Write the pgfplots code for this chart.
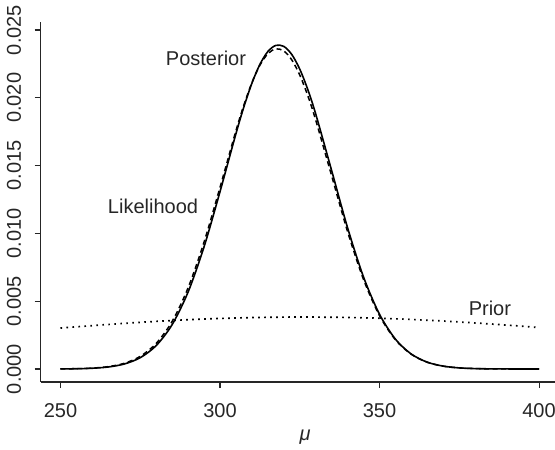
\documentclass[border=0pt]{standalone}
\usepackage{fontspec}
\setmainfont{Liberation Sans}
\usepackage{pgfplots}
\pgfplotsset{compat=1.18}
\begin{document}
\begin{tikzpicture}[font=\fontsize{20}{24}\selectfont]
\begin{axis}[
  at={(40.7pt,68pt)}, anchor=south west,
  scale only axis, width=514.3pt, height=360pt,
  xmin=243.8, xmax=405, ymin=-0.00096, ymax=0.02559,
  axis x line*=bottom, axis y line*=left,
  axis line style={line width=1.1pt, black!85},
  every tick/.style={line width=1.1pt, black!85},
  tick align=outside, major tick length=6pt,
  xtick={250,300,350,400},
  ytick={0,0.005,0.01,0.015,0.02,0.025},
  scaled y ticks=false,
  xticklabel style={inner ysep=15.5pt},
  yticklabel style={rotate=90, anchor=south, inner ysep=13.5pt, /pgf/number format/fixed, /pgf/number format/fixed zerofill, /pgf/number format/precision=3},
  /pgf/number format/assume math mode=true,
  tick label style={font=\fontsize{20}{24}\selectfont, text=black!85},
  clip=false,
]
% Prior
\addplot[black, line width=1.7pt, dash pattern=on 1.6pt off 4.4pt, smooth] coordinates {
(250,0.003017) (260,0.003199) (270,0.003364) (280,0.003509) (290,0.003630)
(300,0.003725) (310,0.003790) (320,0.003824) (330,0.003827) (340,0.003799)
(350,0.003740) (360,0.003651) (370,0.003536) (380,0.003395) (390,0.003234)
(400,0.003054)};
% Likelihood
\addplot[black, line width=1.5pt, dash pattern=on 5pt off 3.5pt, smooth] coordinates {
(250,0.0000072) (255,0.0000227) (260,0.0000654) (265,0.0001727) (270,0.0004186)
(275,0.000928) (280,0.001886) (285,0.003510) (290,0.005988) (295,0.009356)
(300,0.013395) (305,0.017571) (307.5,0.019475) (310,0.021116) (312.5,0.022402)
(315,0.023251) (317.5,0.023610) (320,0.023455) (322.5,0.022797) (325,0.021678)
(327.5,0.020169) (330,0.018357) (335,0.014243) (340,0.010123) (345,0.006592)
(350,0.003933) (355,0.002150) (360,0.001077) (365,0.000494) (370,0.000208)
(375,0.000080) (380,0.000028) (385,0.0000091) (390,0.0000027) (395,0.0000008)
(400,0.0000002)};
% Posterior
\addplot[black, line width=1.6pt, smooth] coordinates {
(250,0.0000057) (255,0.0000185) (260,0.0000547) (265,0.0001483) (270,0.0003676)
(275,0.000833) (280,0.001726) (285,0.003274) (290,0.005676) (295,0.009008)
(300,0.013073) (305,0.017354) (307.5,0.019340) (310,0.021075) (312.5,0.022463)
(315,0.023413) (317.5,0.023866) (320,0.023791) (322.5,0.023195) (325,0.022114)
(327.5,0.020621) (330,0.018805) (335,0.014627) (340,0.010406) (345,0.006773)
(350,0.004032) (355,0.002196) (360,0.001094) (365,0.000499) (370,0.000208)
(375,0.0000792) (380,0.0000276) (385,0.0000088) (390,0.0000026) (395,0.0000007)
(400,0.0000002)};
\node[anchor=base, text=black!85] at (axis cs:295.6,0.02240) {Posterior};
\node[anchor=base, text=black!85] at (axis cs:279.0,0.01150) {Likelihood};
\node[anchor=base, text=black!85] at (axis cs:384.6,0.00391) {Prior};
\node[anchor=base, text=black!85] at (axis description cs:0.514,0) [yshift=-59pt] {\textit{μ}};
\end{axis}
\pgfresetboundingbox
\path[use as bounding box] (0,0) rectangle (555pt,450pt);
\end{tikzpicture}
\end{document}
